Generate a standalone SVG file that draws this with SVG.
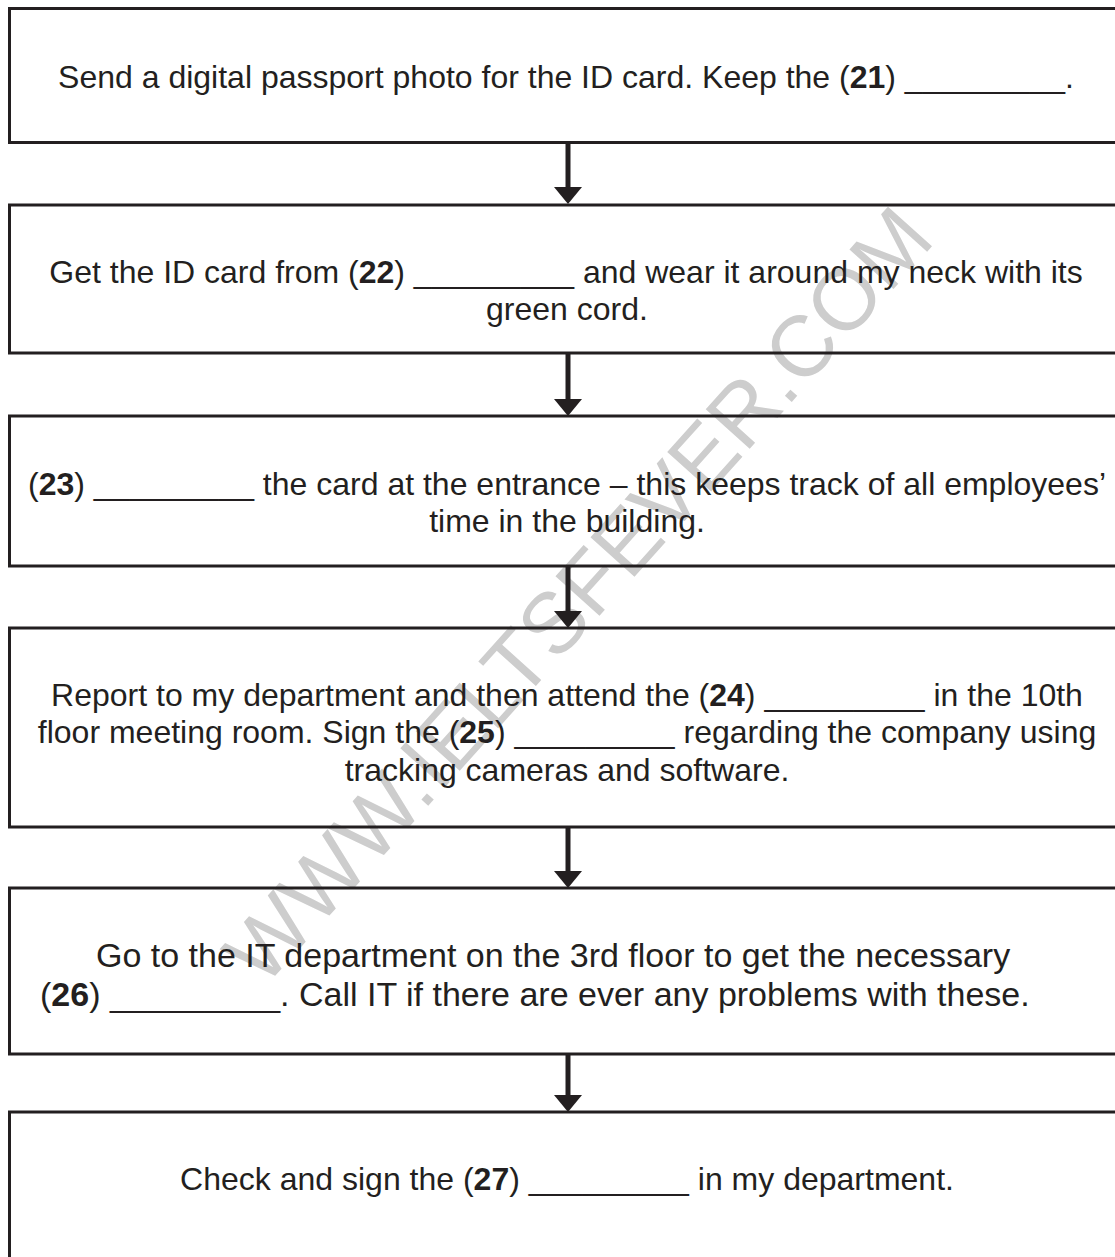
<svg xmlns="http://www.w3.org/2000/svg" width="1115" height="1257" viewBox="0 0 1115 1257">
  <style>
    .box { fill: none; stroke: #231f20; stroke-width: 3; }
    .t { font-family: "Liberation Sans", Arial, sans-serif; font-size: 32px; fill: #231f20; text-anchor: middle; }
    .t5 { font-family: "Liberation Sans", Arial, sans-serif; font-size: 34px; fill: #231f20; }
    .b { font-weight: bold; }
    .shaft { stroke: #231f20; stroke-width: 5; }
    .wm { font-family: "Liberation Sans", Arial, sans-serif; font-size: 86px; fill: #cdcdcd; text-anchor: middle; }
  </style>
  <defs>
    <marker id="ah" viewBox="0 0 28 17" refX="14" refY="17" markerWidth="28" markerHeight="17" markerUnits="userSpaceOnUse" orient="auto-start-reverse">
      <path d="M0,0 L28,0 L14,17 Z" fill="#231f20"/>
    </marker>
  </defs>
  <rect width="1115" height="1257" fill="#ffffff"/>
  <text class="wm" transform="translate(600,615) rotate(-48)">WWW.IELTSFEVER.COM</text>

  <g id="connectors">
    <path d="M568,144 V188" class="shaft"/><path d="M554,187 H582 L568,204 Z" fill="#231f20"/>
    <path d="M568,354 V400" class="shaft"/><path d="M554,399 H582 L568,416 Z" fill="#231f20"/>
    <path d="M568,567 V612" class="shaft"/><path d="M554,611 H582 L568,628 Z" fill="#231f20"/>
    <path d="M568,828 V872" class="shaft"/><path d="M554,871 H582 L568,888 Z" fill="#231f20"/>
    <path d="M568,1055 V1096" class="shaft"/><path d="M554,1095 H582 L568,1112 Z" fill="#231f20"/>
  </g>

  <g id="step1">
    <rect class="box" x="9.5" y="8.5" width="1120" height="134"/>
    <text class="t" x="566" y="88">Send a digital passport photo for the ID card. Keep the (<tspan class="b">21</tspan>) _________.</text>
  </g>
  <g id="step2">
    <rect class="box" x="9.5" y="205" width="1120" height="148"/>
    <text class="t" x="566" y="283">Get the ID card from (<tspan class="b">22</tspan>) _________ and wear it around my neck with its</text>
    <text class="t" x="567" y="320">green cord.</text>
  </g>
  <g id="step3">
    <rect class="box" x="9.5" y="416" width="1120" height="150"/>
    <text class="t" x="567" y="495">(<tspan class="b">23</tspan>) _________ the card at the entrance – this keeps track of all employees’</text>
    <text class="t" x="567" y="532">time in the building.</text>
  </g>
  <g id="step4">
    <rect class="box" x="9.5" y="628" width="1120" height="199"/>
    <text class="t" x="567" y="706">Report to my department and then attend the (<tspan class="b">24</tspan>) _________ in the 10th</text>
    <text class="t" x="567" y="743">floor meeting room. Sign the (<tspan class="b">25</tspan>) _________ regarding the company using</text>
    <text class="t" x="567" y="781">tracking cameras and software.</text>
  </g>
  <g id="step5">
    <rect class="box" x="9.5" y="888" width="1120" height="166"/>
    <text class="t5" x="96" y="967">Go to the IT department on the 3rd floor to get the necessary</text>
    <text class="t5" x="40" y="1006">(<tspan class="b">26</tspan>) _________. Call IT if there are ever any problems with these.</text>
  </g>
  <g id="step6">
    <rect class="box" x="9.5" y="1112" width="1120" height="160"/>
    <text class="t" x="567" y="1190">Check and sign the (<tspan class="b">27</tspan>) _________ in my department.</text>
  </g>
</svg>
